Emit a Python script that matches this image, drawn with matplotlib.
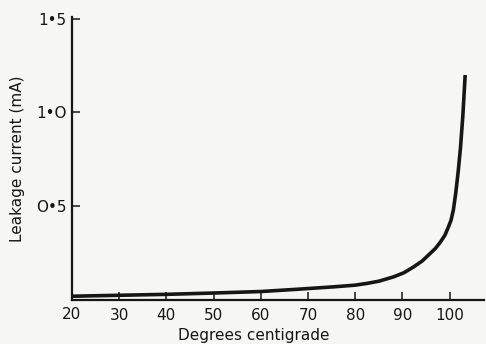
import matplotlib.pyplot as plt

# Leakage current against temperature
temp_c = [20, 30, 40, 50, 60, 68.3, 75.4, 80, 82.4, 85, 88.1, 90.3, 92.3, 94.2, 95.8,
          97, 98.0, 99.0, 99.7, 100.3, 100.8, 101.3, 101.8, 102.3, 102.8, 103.3]
leak_ma = [0.02, 0.025, 0.03, 0.037, 0.045, 0.058, 0.07, 0.079, 0.088, 0.10, 0.123, 0.145,
           0.175, 0.208, 0.246, 0.275, 0.307, 0.345, 0.386, 0.425, 0.48, 0.57, 0.68, 0.81,
           0.98, 1.2]

x_ticks = [30, 40, 50, 60, 70, 80, 90, 100]
x_labels = ['30', '40', '50', '60', '70', '80', '90', '100']
y_ticks = [0.5, 1.0, 1.5]
y_labels = ['O•5', '1•O', '1•5']

paper = '#f6f6f4'
ink = '#161616'

fig = plt.figure(figsize=(4.86, 3.44), dpi=100, facecolor=paper)
ax = fig.add_axes([0.148, 0.128, 0.848, 0.823], facecolor=paper)

ax.plot(temp_c, leak_ma, color=ink, lw=2.6, solid_capstyle='butt', solid_joinstyle='round')

ax.set_xlim(20, 107.3)
ax.set_ylim(0, 1.51)

for side in ['top', 'right']:
    ax.spines[side].set_visible(False)
for side in ['left', 'bottom']:
    ax.spines[side].set_color(ink)
    ax.spines[side].set_linewidth(1.6)

ax.set_xticks(x_ticks)
ax.set_xticklabels(x_labels)
ax.set_yticks(y_ticks)
ax.set_yticklabels(y_labels)
ax.tick_params(direction='in', length=6, width=1.1, colors=ink, labelsize=11)
ax.tick_params(axis='x', pad=6)
ax.tick_params(axis='y', pad=4)

# "20" sits under the corner of the axes
ax.text(20, -0.04, '20', transform=ax.transData, ha='center', va='top',
        fontsize=11, color=ink)

ax.set_xlabel('Degrees centigrade', fontsize=11, color=ink)
ax.xaxis.set_label_coords(0.44, -0.1)
ax.set_ylabel('Leakage current (mA)', fontsize=11, color=ink, labelpad=8)

fig.savefig('out.png', dpi=100, facecolor=paper)
